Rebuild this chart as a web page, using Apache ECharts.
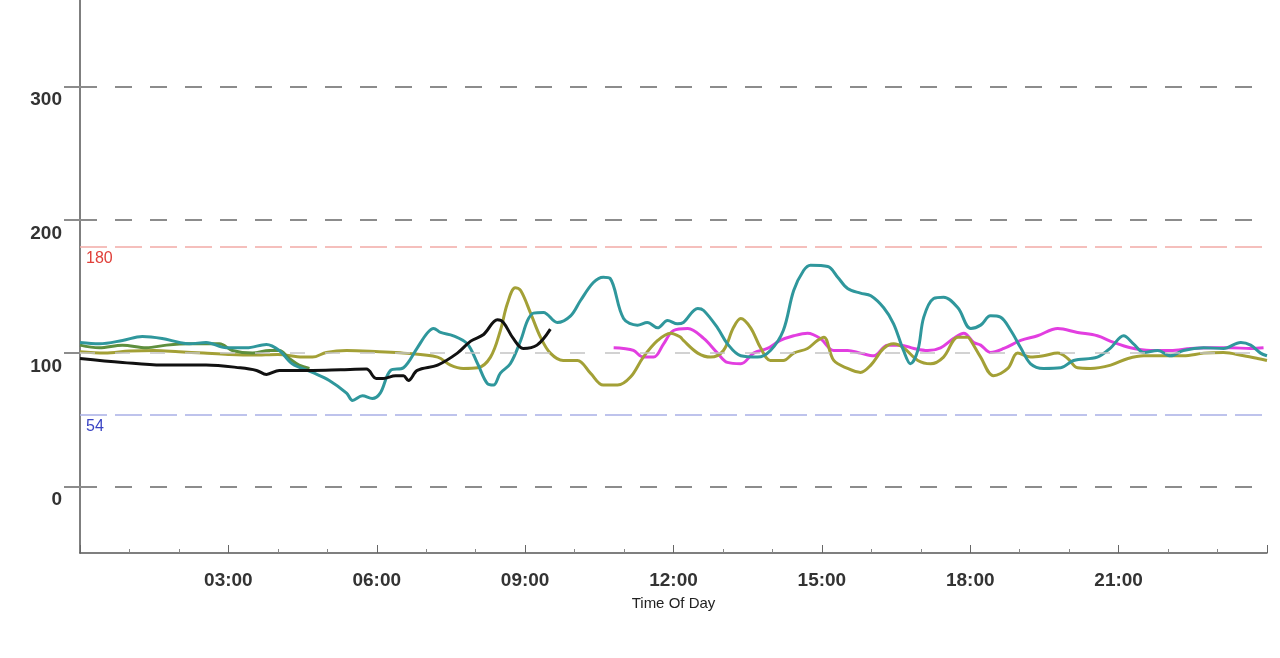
<!DOCTYPE html>
<html>
<head>
<meta charset="utf-8">
<script src="https://cdn.jsdelivr.net/npm/echarts@6/dist/echarts.min.js"></script>
<style>
html,body{margin:0;padding:0;background:#fff;}
#chart{width:1280px;height:658px;}
</style>
</head>
<body>
<div id="chart"></div>
<script>
// ---- data (hour of day, glucose mg/dL) ----
const blackDay = [[0,96],[0.86,93],[1.66,91],[2.55,91],[3.24,89],[3.57,87],[3.77,84],[4.03,87],[4.7,87],[5.27,87.5],[5.79,88],[5.99,81],[6.13,81],[6.38,83],[6.54,83],[6.64,79.5],[6.82,87],[7.23,91],[7.63,100],[7.9,109],[8.16,114],[8.44,125],[8.56,123],[8.76,111],[8.96,103.5],[9.24,106],[9.51,118]];
const tealDay = [[0,108],[0.39,107],[0.86,109.5],[1.26,112.5],[1.66,111],[2.01,108],[2.21,107],[2.55,108],[2.96,104],[3.37,104],[3.77,106.5],[4.03,102],[4.29,92],[4.7,85.5],[5.04,79.5],[5.39,70],[5.51,64.5],[5.71,68],[5.91,66],[6.07,70],[6.28,87],[6.54,89],[6.82,104],[7.02,115],[7.15,118.5],[7.29,115.5],[7.55,113],[7.83,107],[8.04,92],[8.24,77],[8.36,76],[8.5,85],[8.7,92],[8.91,109.5],[9.05,124.5],[9.17,130],[9.37,130.5],[9.65,123],[9.92,128],[10.12,139.5],[10.38,153],[10.58,157],[10.72,156],[10.99,126],[11.27,121],[11.47,123],[11.68,119],[11.88,124.5],[12.08,122],[12.2,123],[12.49,133.5],[12.61,132],[12.89,119],[13.09,107],[13.36,98],[13.7,97],[13.96,102],[14.22,117],[14.43,147],[14.63,162],[14.77,166],[15.12,165],[15.32,157],[15.52,148.5],[15.78,145],[15.99,143],[16.25,134],[16.45,122],[16.65,102],[16.79,92],[16.94,102],[17.06,127],[17.26,141],[17.46,142],[17.75,134],[18.01,118.5],[18.21,121],[18.41,128],[18.61,127],[18.82,117],[19.02,104],[19.22,92],[19.48,88.5],[19.83,89],[20.09,94.5],[20.57,97],[20.84,104],[21.1,113],[21.3,107],[21.51,100.5],[21.79,102],[22.05,98],[22.31,102],[22.72,104],[23.12,103.5],[23.47,108],[23.67,106],[23.87,100],[24,98]];
const oliveDay = [[0,101],[0.5,100],[1,101.5],[1.5,102],[2,101],[2.5,100],[3,99],[3.5,98.5],[4,99],[4.5,97],[4.7,97],[4.98,100.5],[5.39,102],[6.05,101],[6.54,100],[7.23,97],[7.49,91],[7.75,88.5],[8.04,89],[8.3,97],[8.5,117],[8.64,137],[8.8,149],[8.91,147],[9.11,130],[9.31,112],[9.51,100],[9.77,94.5],[10.06,94.5],[10.32,85],[10.58,76],[10.87,76],[11.13,82],[11.39,97],[11.68,109.5],[11.94,115],[12.14,112],[12.2,109.5],[12.49,100],[12.75,97],[13.01,102],[13.21,119],[13.36,126],[13.56,119],[13.76,104],[13.96,94.5],[14.22,94.5],[14.43,100],[14.71,103.5],[14.91,109.5],[15.04,112],[15.24,94.5],[15.52,88.5],[15.78,85.5],[15.99,91],[16.25,103.5],[16.45,107],[16.65,104],[16.94,94.5],[17.2,92],[17.46,97],[17.75,112],[17.95,112],[18.01,109.5],[18.21,97],[18.47,83],[18.76,88.5],[18.96,100],[19.22,97],[19.48,98],[19.77,100],[19.97,96],[20.17,89],[20.43,88.5],[20.84,91],[21.19,96],[21.51,98],[21.91,98],[22.31,98],[22.72,100],[23.12,100.5],[23.53,98],[23.81,96],[24,94.5]];
const greenDay = [[0,106],[0.39,104],[0.86,106],[1.34,104],[1.75,106],[2.21,107],[2.55,107],[2.82,107],[3.08,102],[3.49,100],[3.83,102],[4.03,102],[4.23,96],[4.43,91],[4.64,88.5]];
const magentaDay = [[10.79,104],[10.99,103.5],[11.19,102],[11.39,97],[11.6,97],[11.8,107],[12.0,117],[12.29,118.5],[12.61,111],[12.89,100],[13.09,93],[13.36,92],[13.62,100],[13.9,103.5],[14.16,109.5],[14.43,113],[14.71,115],[14.97,111],[15.24,102],[15.52,102],[15.78,100],[16.05,98],[16.33,106],[16.59,106],[16.86,103.5],[17.14,102],[17.4,104],[17.66,111],[17.87,115],[18.07,108],[18.21,106],[18.41,100.5],[18.68,103.5],[19.02,109.5],[19.36,113],[19.77,118.5],[20.17,115.5],[20.57,113],[20.9,108],[21.24,104],[21.65,102],[22.05,102],[22.46,103.5],[22.86,104],[23.27,104],[23.67,103.5],[23.93,104]];
const yTickValues = [0, 100, 200, 300];
const majorGridValues = [0, 200, 300];
const midGridValue = 100;
const targetHigh = 180;
const targetLow = 54;
const xAxisTitle = 'Time Of Day';

const chart = echarts.init(document.getElementById('chart'), null, {renderer: 'canvas'});
const FONT = '"Liberation Sans", Arial, sans-serif';

function lineSeries(name, data, color, extra) {
  return Object.assign({
    name: name, type: 'line', data: data, showSymbol: false, symbol: 'none',
    smooth: 0.35, lineStyle: {color: color, width: 3}, z: 3, silent: true
  }, extra || {});
}

const markLines = {
  symbol: 'none', silent: true, animation: false,
  data: [
    ...majorGridValues.map(v => ({yAxis: v, lineStyle: {color: '#8c8c8c', width: 2, type: [17, 18]}, label: {show: false}})),
    {yAxis: midGridValue, lineStyle: {color: '#c4c4c4', width: 1.5, type: [15, 20]}, label: {show: false}},
    {yAxis: targetHigh, lineStyle: {color: '#f2aaa6', width: 1.5, type: [27, 8]},
      label: {show: true, position: 'insideStartBottom', formatter: String(targetHigh), color: '#e0403a', fontSize: 16, fontFamily: FONT, distance: [6, 4]}},
    {yAxis: targetLow, lineStyle: {color: '#a9b0e6', width: 1.5, type: [27, 8]},
      label: {show: true, position: 'insideStartBottom', formatter: String(targetLow), color: '#3a44c4', fontSize: 16, fontFamily: FONT, distance: [6, 4]}}
  ]
};

chart.setOption({
  animation: false,
  backgroundColor: '#ffffff',
  grid: {left: 80, right: 13, top: 0, bottom: 105, containLabel: false},
  xAxis: {
    type: 'value', min: 0, max: 24, interval: 3,
    name: xAxisTitle, nameLocation: 'middle', nameGap: 43,
    nameTextStyle: {fontSize: 15, color: '#222', fontFamily: FONT},
    axisLine: {onZero: false, lineStyle: {color: '#555', width: 1.5}},
    axisTick: {inside: true, length: 8, lineStyle: {color: '#666', width: 1}},
    minorTick: {show: true, splitNumber: 3, length: 4, lineStyle: {color: '#888', width: 1}},
    splitLine: {show: false},
    axisLabel: {
      margin: 18, fontSize: 19, fontWeight: 'bold', color: '#333', fontFamily: FONT,
      formatter: v => (v <= 0 || v >= 24) ? '' : String(v).padStart(2, '0') + ':00'
    }
  },
  yAxis: {
    type: 'value', min: -50, max: 365,
    axisLine: {show: true, lineStyle: {color: '#555', width: 1.5}},
    axisTick: {show: true, customValues: yTickValues, length: 16, lineStyle: {color: '#8c8c8c', width: 2}},
    splitLine: {show: false},
    axisLabel: {
      customValues: yTickValues, margin: 18, fontSize: 19, fontWeight: 'bold', color: '#333',
      fontFamily: FONT, verticalAlign: 'top', padding: [4, 0, 0, 0]
    }
  },
  series: [
    lineSeries('Day A', magentaDay, '#e23ee0', {markLine: markLines, z: 2}),
    lineSeries('Day B', oliveDay, '#a3a036'),
    lineSeries('Day C', greenDay, '#5e8f3e'),
    lineSeries('Day D', tealDay, '#2f979c'),
    lineSeries('Day E', blackDay, '#111111', {z: 4})
  ]
});
</script>
</body>
</html>
